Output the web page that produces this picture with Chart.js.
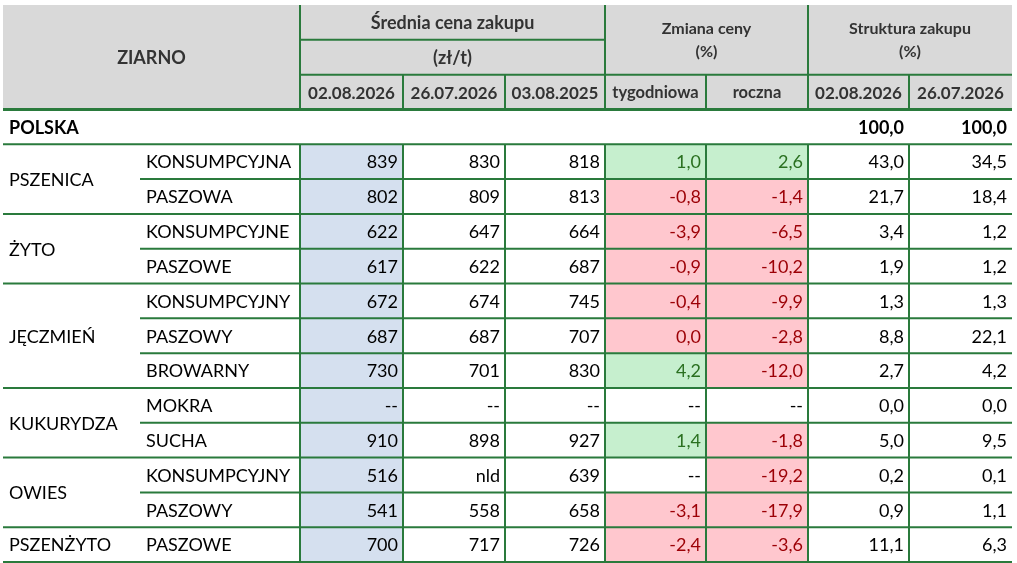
<!DOCTYPE html>
<html>
<head>
<meta charset="utf-8">
<script src="https://cdn.jsdelivr.net/npm/chart.js@4"></script>
<style>
  html, body { margin: 0; padding: 0; background: #fff; }
  #wrap { width: 1017px; height: 563px; }
</style>
</head>
<body>
<div id="wrap"><canvas id="myChart"></canvas></div>
<script>
// ---- data ----
const groups = ["PSZENICA", "ŻYTO", "JĘCZMIEŃ", "KUKURYDZA", "OWIES", "PSZENŻYTO"];
const groupSizes = [2, 2, 3, 2, 2, 1];
const kinds = ["KONSUMPCYJNA", "PASZOWA", "KONSUMPCYJNE", "PASZOWE", "KONSUMPCYJNY", "PASZOWY",
  "BROWARNY", "MOKRA", "SUCHA", "KONSUMPCYJNY", "PASZOWY", "PASZOWE"];
const priceDates = ["02.08.2026", "26.07.2026", "03.08.2025"];
const changeLabels = ["tygodniowa", "roczna"];
const shareDates = ["02.08.2026", "26.07.2026"];

const price_02_08_2026 = [839, 802, 622, 617, 672, 687, 730, null, 910, 516, 541, 700];
const price_26_07_2026 = [830, 809, 647, 622, 674, 687, 701, null, 898, "nld", 558, 717];
const price_03_08_2025 = [818, 813, 664, 687, 745, 707, 830, null, 927, 639, 658, 726];
const changeWeekly = [1.0, -0.8, -3.9, -0.9, -0.4, 0.0, 4.2, null, 1.4, null, -3.1, -2.4];
const changeYearly = [2.6, -1.4, -6.5, -10.2, -9.9, -2.8, -12.0, null, -1.8, -19.2, -17.9, -3.6];
const share_02_08_2026 = [43.0, 21.7, 3.4, 1.9, 1.3, 8.8, 2.7, 0.0, 5.0, 0.2, 0.9, 11.1];
const share_26_07_2026 = [34.5, 18.4, 1.2, 1.2, 1.3, 22.1, 4.2, 0.0, 9.5, 0.1, 1.1, 6.3];
const polskaShare = [100.0, 100.0];

// ---- layout ----
const colWidths = [137, 160, 103, 102, 100, 101, 102, 101, 103];
const edges = [0];
colWidths.forEach((w) => edges.push(edges[edges.length - 1] + w));
const total = edges[edges.length - 1];

const rows = ["h0", "h1", "h2", "POLSKA"].concat(kinds.map((k, i) => "r" + i));
const BODY = 4;

const LINE = "#2a7a3c";
const HEAD_BG = "#d9d9d9";
const BLUE = "#d5e0ef";
const GOOD_BG = "#c6efce", GOOD_FG = "#2a7020";
const BAD_BG = "#ffc7ce", BAD_FG = "#9c0006";
const TXT = "#000";
const FONT = "Lato, 'Open Sans', sans-serif";

const fmt1 = (v) => v.toFixed(1).replace(".", ",");

function cells(col, values, filter) {
  const out = [];
  values.forEach((v, i) => {
    if (filter(v)) out.push({ x: [edges[col], edges[col + 1]], y: rows[BODY + i] });
  });
  return out;
}

const headerData = [0, 1, 2].map((r) => ({ x: [0, total], y: rows[r] }));
const blueData = cells(2, price_02_08_2026, () => true);
const weeklyData = cells(5, changeWeekly, (v) => v !== null);
const yearlyData = cells(6, changeYearly, (v) => v !== null);
const signColor = (arr) => arr.filter((v) => v !== null).map((v) => (v > 0 ? GOOD_BG : BAD_BG));

function bars(data, color) {
  return {
    data: data,
    backgroundColor: color,
    borderWidth: 0,
    borderSkipped: false,
    barPercentage: 1,
    categoryPercentage: 1,
    grouped: false,
  };
}

const tablePlugin = {
  id: "tablePlugin",
  afterDatasetsDraw(chart) {
    const ctx = chart.ctx;
    const xs = chart.scales.x;
    const ys = chart.scales.y;
    const rowH = ys.getPixelForValue(1) - ys.getPixelForValue(0);
    const X = (c) => xs.getPixelForValue(edges[c]);
    const Yb = (b) => ys.getPixelForValue(0) - rowH / 2 + b * rowH;

    function hLine(b, c0, c1, w) {
      ctx.beginPath();
      ctx.lineWidth = w || 2;
      ctx.strokeStyle = LINE;
      ctx.moveTo(X(c0), Yb(b));
      ctx.lineTo(X(c1), Yb(b));
      ctx.stroke();
    }
    function vLine(c, b0, b1) {
      ctx.beginPath();
      ctx.lineWidth = 2;
      ctx.strokeStyle = LINE;
      ctx.moveTo(X(c), Yb(b0));
      ctx.lineTo(X(c), Yb(b1));
      ctx.stroke();
    }
    function text(str, c0, c1, b0, b1, align, font, color) {
      ctx.save();
      ctx.font = font;
      ctx.fillStyle = color;
      ctx.textBaseline = "middle";
      ctx.textAlign = align;
      let x;
      if (align === "left") x = X(c0) + 6;
      else if (align === "right") x = X(c1) - 5;
      else x = (X(c0) + X(c1)) / 2;
      ctx.fillText(str, x, (Yb(b0) + Yb(b1)) / 2 + 1);
      ctx.restore();
    }

    // grid lines
    const nRows = rows.length;
    [2, 5, 7].forEach((c) => { vLine(c, 0, 3); vLine(c, BODY, nRows); });
    [3, 4, 6, 8].forEach((c) => { vLine(c, 2, 3); vLine(c, BODY, nRows); });
    hLine(1, 2, 5);
    hLine(2, 2, 9);
    hLine(3, 0, 9, 3);
    hLine(BODY, 0, 9);
    let r = BODY;
    groupSizes.forEach((n) => {
      for (let i = 1; i < n; i++) hLine(r + i, 1, 9);
      r += n;
      hLine(r, 0, 9);
    });

    // header texts
    const HEAD = "#333333";
    const hBig = "bold 18px " + FONT;
    const hMid = "bold 16px " + FONT;
    text("ZIARNO", 0, 2, 0, 3, "center", hBig, HEAD);
    text("Średnia cena zakupu", 2, 5, 0, 1, "center", hBig, HEAD);
    text("(zł/t)", 2, 5, 1, 2, "center", hBig, HEAD);
    text("Zmiana ceny", 5, 7, 0, 1.3, "center", hMid, HEAD);
    text("(%)", 5, 7, 0.65, 2, "center", hMid, HEAD);
    text("Struktura zakupu", 7, 9, 0, 1.3, "center", hMid, HEAD);
    text("(%)", 7, 9, 0.65, 2, "center", hMid, HEAD);
    priceDates.forEach((d, i) => text(d, 2 + i, 3 + i, 2, 3, "center", "bold 17px " + FONT, HEAD));
    changeLabels.forEach((d, i) => text(d, 5 + i, 6 + i, 2, 3, "center", "bold 16.5px " + FONT, HEAD));
    shareDates.forEach((d, i) => text(d, 7 + i, 8 + i, 2, 3, "center", "bold 17px " + FONT, HEAD));

    // POLSKA row
    const bodyFont = "18px " + FONT;
    const boldFont = "bold 18px " + FONT;
    text("POLSKA", 0, 2, 3, 4, "left", boldFont, TXT);
    polskaShare.forEach((v, i) => text(fmt1(v), 7 + i, 8 + i, 3, 4, "right", boldFont, TXT));

    // groups
    r = BODY;
    groups.forEach((g, gi) => {
      text(g, 0, 1, r, r + groupSizes[gi], "left", bodyFont, TXT);
      r += groupSizes[gi];
    });

    const show = (v) => (v === null ? "--" : String(v));
    kinds.forEach((k, i) => {
      const b = BODY + i;
      text(k, 1, 2, b, b + 1, "left", bodyFont, TXT);
      text(show(price_02_08_2026[i]), 2, 3, b, b + 1, "right", bodyFont, TXT);
      text(show(price_26_07_2026[i]), 3, 4, b, b + 1, "right", bodyFont, TXT);
      text(show(price_03_08_2025[i]), 4, 5, b, b + 1, "right", bodyFont, TXT);
      [changeWeekly[i], changeYearly[i]].forEach((v, j) => {
        const color = v === null ? TXT : v > 0 ? GOOD_FG : BAD_FG;
        text(v === null ? "--" : fmt1(v), 5 + j, 6 + j, b, b + 1, "right", bodyFont, color);
      });
      text(fmt1(share_02_08_2026[i]), 7, 8, b, b + 1, "right", bodyFont, TXT);
      text(fmt1(share_26_07_2026[i]), 8, 9, b, b + 1, "right", bodyFont, TXT);
    });
  },
};

new Chart(document.getElementById("myChart").getContext("2d"), {
  type: "bar",
  data: {
    labels: rows,
    datasets: [
      bars(headerData, HEAD_BG),
      bars(blueData, BLUE),
      bars(weeklyData, signColor(changeWeekly)),
      bars(yearlyData, signColor(changeYearly)),
    ],
  },
  options: {
    indexAxis: "y",
    responsive: true,
    maintainAspectRatio: false,
    animation: false,
    layout: { padding: { left: 3, right: 5, top: 5, bottom: 1 } },
    scales: {
      x: { type: "linear", min: 0, max: total, display: false },
      y: { type: "category", display: false, offset: true },
    },
    plugins: { legend: { display: false }, tooltip: { enabled: false } },
  },
  plugins: [tablePlugin],
});
</script>
</body>
</html>
